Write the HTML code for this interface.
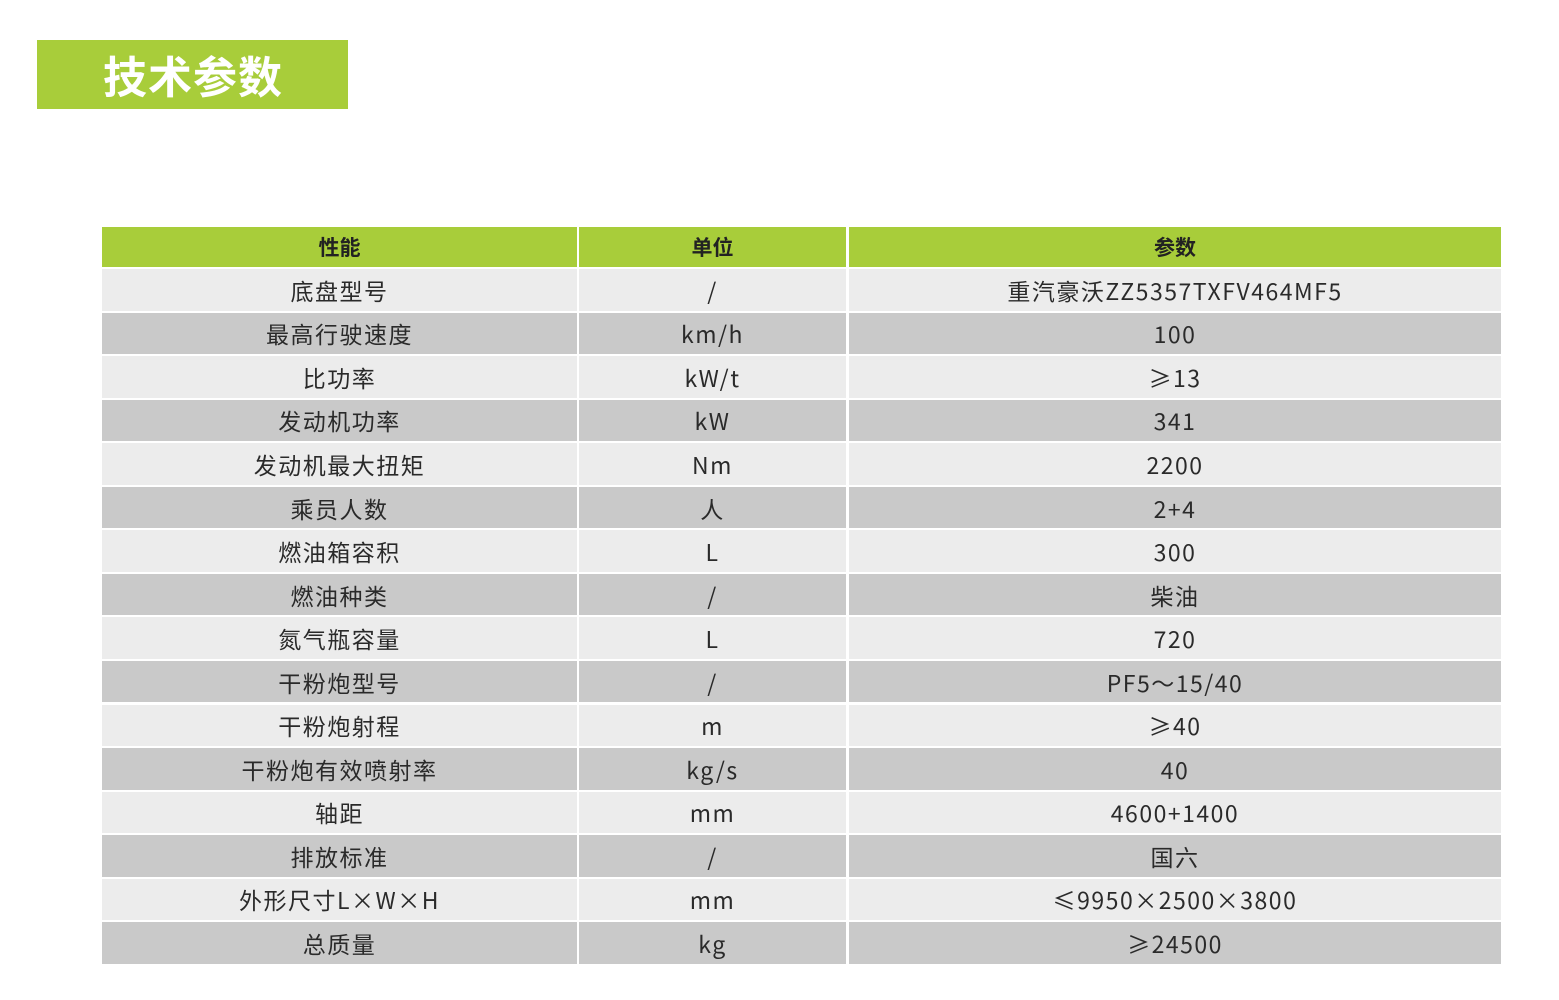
<!DOCTYPE html>
<html><head><meta charset="utf-8"><style>
body{margin:0;width:1559px;height:1000px;background:#fff;position:relative;overflow:hidden;font-family:"Liberation Sans","Noto Sans CJK SC",sans-serif;color:#2a2a2a}
.ban{position:absolute;left:37px;top:40px;width:311px;height:69px;background:#a8cd3a;color:#fff;font-weight:bold;font-size:44px;line-height:69px;font-family:"Noto Sans CJK SC",sans-serif}
.ban span{position:absolute;left:66px;letter-spacing:1px}
.c{position:absolute;display:flex;align-items:center;justify-content:center;font-size:23px;letter-spacing:1.5px;font-family:"Noto Sans CJK SC","Liberation Sans",sans-serif}
.h{background:#a8cd3a;font-weight:bold;font-size:21px;letter-spacing:0;color:#222}
.l{background:#ececec}.d{background:#c9c9c9}
</style></head><body>
<div class="ban"><span>技术参数</span></div>
<div id="t"></div>
<script>
(function(){
var cols=[[102,475],[579,267],[849,652]];
var rows=[["底盘型号","/","重汽豪沃ZZ5357TXFV464MF5"],["最高行驶速度","km/h","100"],["比功率","kW/t","≥13"],["发动机功率","kW","341"],["发动机最大扭矩","Nm","2200"],["乘员人数","人","2+4"],["燃油箱容积","L","300"],["燃油种类","/","柴油"],["氮气瓶容量","L","720"],["干粉炮型号","/","PF5～15/40"],["干粉炮射程","m","≥40"],["干粉炮有效喷射率","kg/s","40"],["轴距","mm","4600+1400"],["排放标准","/","国六"],["外形尺寸L×W×H","mm","≤9950×2500×3800"],["总质量","kg","≥24500"]];
var h="";var hd=["性能","单位","参数"];
for(var j=0;j<3;j++)h+='<div class="c h" style="left:'+cols[j][0]+'px;top:227px;width:'+cols[j][1]+'px;height:40px">'+hd[j]+'</div>';
for(var i=0;i<rows.length;i++){var ty=269+i*43.55;var cl=i%2?"d":"l";
for(var j=0;j<3;j++)h+='<div class="c '+cl+'" style="left:'+cols[j][0]+'px;top:'+ty+'px;width:'+cols[j][1]+'px;height:41.5px">'+rows[i][j]+'</div>';}
document.getElementById("t").innerHTML=h;
})();
</script>
</body></html>
